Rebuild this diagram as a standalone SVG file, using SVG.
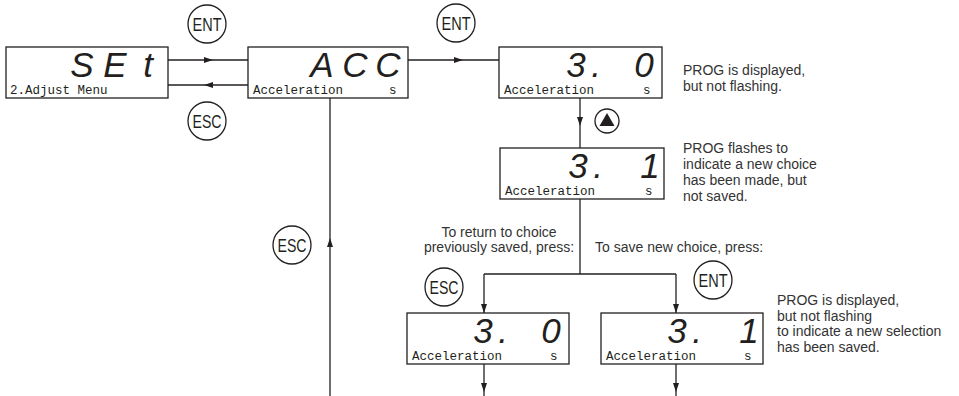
<svg xmlns="http://www.w3.org/2000/svg" width="959" height="396" viewBox="0 0 959 396">
<style>
.box{fill:#fff;stroke:#231f20;stroke-width:1.3}
.seg{font-family:"Liberation Sans",Arial,sans-serif;font-style:italic;font-size:35px;fill:#231f20;text-anchor:middle}
.lcd{font-family:"Liberation Mono","DejaVu Sans Mono",monospace;font-size:12.5px;fill:#231f20}
.btn{fill:#fff;stroke:#231f20;stroke-width:1.3}
.btxt{font-family:"Liberation Sans",Arial,sans-serif;font-size:18px;fill:#231f20;text-anchor:middle}
.note{font-family:"Liberation Sans",Arial,sans-serif;font-size:14px;fill:#333}
.ln{fill:none;stroke:#231f20;stroke-width:1.3}
</style>
<defs>
<marker id="arr" markerUnits="userSpaceOnUse" markerWidth="9" markerHeight="7" refX="9" refY="3" orient="auto">
<path d="M0,0 L9,3 L0,6 z" fill="#231f20"/>
</marker>
</defs>
<g id="connectors">
<path class="ln" d="M168,60 H213 H248" marker-mid="url(#arr)"/>
<path class="ln" d="M248,85 H204 H168" marker-mid="url(#arr)"/>
<path class="ln" d="M408,60 H463 H499" marker-mid="url(#arr)"/>
<path class="ln" d="M580,98 V126 V148" marker-mid="url(#arr)"/>
<path class="ln" d="M330,396 V238 V98" marker-mid="url(#arr)"/>
<path class="ln" d="M580,199 V274"/>
<path class="ln" d="M484,274 H676"/>
<path class="ln" d="M484,274 V313" marker-end="url(#arr)"/>
<path class="ln" d="M676,274 V313" marker-end="url(#arr)"/>
<path class="ln" d="M484,364 V392 V396" marker-mid="url(#arr)"/>
<path class="ln" d="M676,364 V392 V396" marker-mid="url(#arr)"/>
</g>
<g id="set">
<rect class="box" x="6" y="47" width="162" height="51"/>
<text class="seg" x="82" y="77">S</text>
<text class="seg" x="115" y="77">E</text>
<text class="seg" x="148" y="77">t</text>
<text class="lcd" x="10" y="94">2.Adjust Menu</text>
</g>
<g id="acc">
<rect class="box" x="248" y="47" width="160" height="51"/>
<text class="seg" x="322" y="77">A</text>
<text class="seg" x="355" y="77">C</text>
<text class="seg" x="388" y="77">C</text>
<text class="lcd" x="253" y="94">Acceleration</text>
<text class="lcd" x="389" y="94">s</text>
</g>
<g id="val30">
<rect class="box" x="499" y="47" width="163" height="51"/>
<text class="seg" x="576" y="77">3</text>
<text class="seg" x="596" y="77">.</text>
<text class="seg" x="644" y="77">0</text>
<text class="lcd" x="504" y="94">Acceleration</text>
<text class="lcd" x="643" y="94">s</text>
</g>
<g id="val31">
<rect class="box" x="500" y="148" width="164" height="51"/>
<text class="seg" x="578" y="178">3</text>
<text class="seg" x="598" y="178">.</text>
<text class="seg" x="650" y="178">1</text>
<text class="lcd" x="505" y="195">Acceleration</text>
<text class="lcd" x="645" y="195">s</text>
</g>
<g id="val30b">
<rect class="box" x="407" y="313" width="162" height="51"/>
<text class="seg" x="483" y="343">3</text>
<text class="seg" x="503" y="343">.</text>
<text class="seg" x="551" y="343">0</text>
<text class="lcd" x="412" y="360">Acceleration</text>
<text class="lcd" x="550" y="360">s</text>
</g>
<g id="val31b">
<rect class="box" x="601" y="313" width="162" height="51"/>
<text class="seg" x="677" y="343">3</text>
<text class="seg" x="697" y="343">.</text>
<text class="seg" x="749" y="343">1</text>
<text class="lcd" x="606" y="360">Acceleration</text>
<text class="lcd" x="744" y="360">s</text>
</g>
<g id="ent1"><circle class="btn" cx="207" cy="24" r="19"/><text class="btxt" x="207" y="30.5" textLength="29" lengthAdjust="spacingAndGlyphs">ENT</text></g>
<g id="esc1"><circle class="btn" cx="207" cy="121" r="19"/><text class="btxt" x="207" y="127.5" textLength="29" lengthAdjust="spacingAndGlyphs">ESC</text></g>
<g id="ent2"><circle class="btn" cx="456" cy="23" r="19"/><text class="btxt" x="456" y="29.5" textLength="29" lengthAdjust="spacingAndGlyphs">ENT</text></g>
<g id="up"><circle class="btn" cx="607" cy="121" r="12"/><path d="M607,113 L614.5,126 L599.5,126 z" fill="#231f20"/></g>
<g id="esc2"><circle class="btn" cx="292" cy="245" r="19"/><text class="btxt" x="292" y="251.5" textLength="29" lengthAdjust="spacingAndGlyphs">ESC</text></g>
<g id="esc3"><circle class="btn" cx="444" cy="287" r="19"/><text class="btxt" x="444" y="293.5" textLength="29" lengthAdjust="spacingAndGlyphs">ESC</text></g>
<g id="ent3"><circle class="btn" cx="713" cy="280" r="19"/><text class="btxt" x="713" y="286.5" textLength="29" lengthAdjust="spacingAndGlyphs">ENT</text></g>
<g id="notes">
<text class="note" x="683" y="75">PROG is displayed,</text>
<text class="note" x="683" y="91">but not flashing.</text>
<text class="note" x="683" y="153">PROG flashes to</text>
<text class="note" x="683" y="169">indicate a new choice</text>
<text class="note" x="683" y="185">has been made, but</text>
<text class="note" x="683" y="201">not saved.</text>
<text class="note" x="499" y="237" text-anchor="middle">To return to choice</text>
<text class="note" x="499" y="252" text-anchor="middle">previously saved, press:</text>
<text class="note" x="595" y="252">To save new choice, press:</text>
<text class="note" x="777" y="305">PROG is displayed,</text>
<text class="note" x="777" y="320.5">but not flashing</text>
<text class="note" x="777" y="336">to indicate a new selection</text>
<text class="note" x="777" y="351.5">has been saved.</text>
</g>
</svg>
